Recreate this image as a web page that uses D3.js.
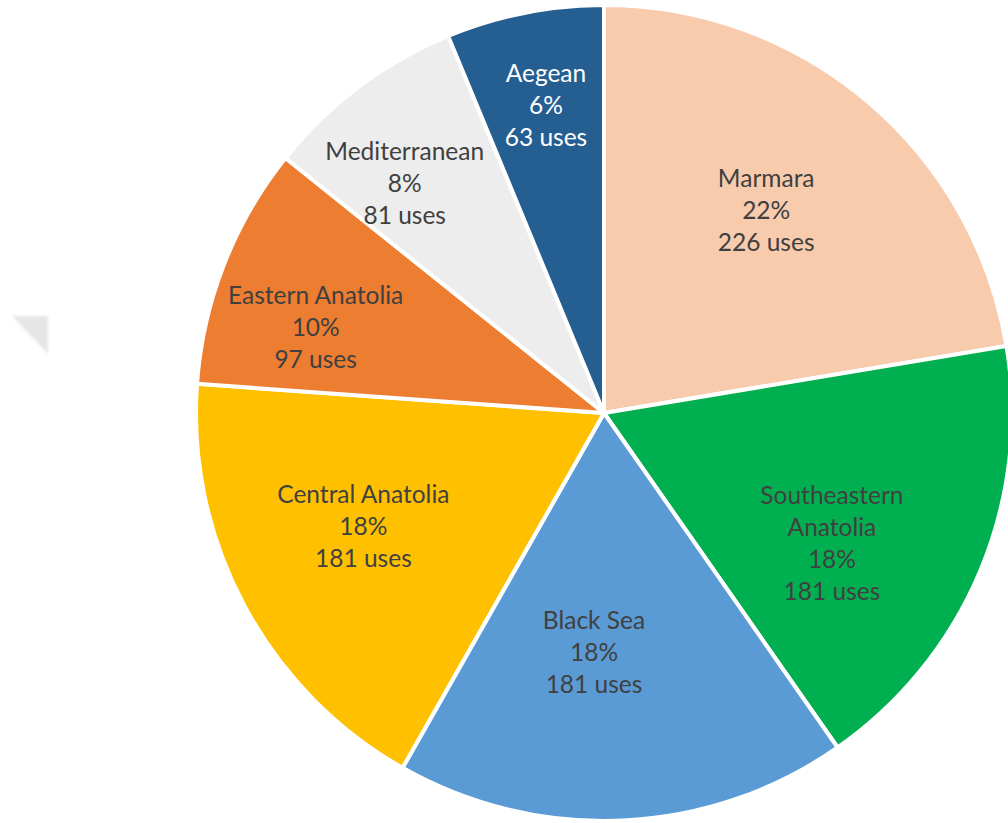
<!DOCTYPE html>
<html>
<head>
<meta charset="utf-8">
<script src="https://cdn.jsdelivr.net/npm/d3@7"></script>
<style>
  body { margin: 0; background: #fff; overflow: hidden; }
  .slice-label { font-family: Lato, "Open Sans", sans-serif; font-size: 24.5px; }
</style>
</head>
<body>
<div class="chart"></div>
<script>
var regions = ["Marmara", "Southeastern Anatolia", "Black Sea", "Central Anatolia",
               "Eastern Anatolia", "Mediterranean", "Aegean"];
var uses = [226, 181, 181, 181, 97, 81, 63];
var percents = ["22%", "18%", "18%", "18%", "10%", "8%", "6%"];
var labelLines = [["Marmara"], ["Southeastern", "Anatolia"], ["Black Sea"], ["Central Anatolia"],
                  ["Eastern Anatolia"], ["Mediterranean"], ["Aegean"]];

var colors = ["#F8CBAD", "#00B050", "#5B9BD5", "#FFC000", "#ED7D31", "#EDEDED", "#255E91"];
// small shifts of each label away from the arc centroid (Excel "best fit")
var labelNudge = [[-4, -6], [-9, 31], [-22, -17], [-14, -8], [-49, 8], [-45, -24], [-8, -55]];

var width = 1008,
    height = 823,
    cx = 604,
    cy = 413,
    radius = 408;

var svg = d3.select('.chart').append("svg")
    .attr("width", width)
    .attr("height", height);

// faint blurred shadow fragment on the left
var defs = svg.append("defs");
defs.append("filter")
    .attr("id", "soft")
    .append("feGaussianBlur")
    .attr("stdDeviation", "1.5");

svg.append("path")
    .attr("d", "M12,316 L48,316 L48,354 Z")
    .attr("fill", "#e6e6e6")
    .style("filter", "url(#soft)");

var data = regions.map(function(d, i) {
    return { region: d, uses: uses[i], pct: percents[i], lines: labelLines[i],
             color: colors[i], nudge: labelNudge[i] };
});

var pie = d3.pie()
    .sort(null)
    .value(function(d) { return d.uses; });

var arc = d3.arc()
    .innerRadius(0)
    .outerRadius(radius);

var labelArc = d3.arc()
    .innerRadius(radius * 0.63)
    .outerRadius(radius * 0.63);

var g = svg.append("g")
    .attr("transform", "translate(" + cx + "," + cy + ")");

g.selectAll("path.slice")
    .data(pie(data))
    .enter().append("path")
    .attr("class", "slice")
    .attr("d", arc)
    .attr("fill", function(d) { return d.data.color; })
    .attr("stroke", "#fff")
    .attr("stroke-width", 4)
    .attr("stroke-linejoin", "round");

var lineH = 32;

var labels = g.selectAll("text.slice-label")
    .data(pie(data))
    .enter().append("text")
    .attr("class", "slice-label")
    .attr("text-anchor", "middle")
    .attr("fill", function(d) { return d.data.region == "Aegean" ? "#ffffff" : "#404040"; })
    .attr("transform", function(d) {
        var c = labelArc.centroid(d);
        return "translate(" + (c[0] + d.data.nudge[0]) + "," + (c[1] + d.data.nudge[1]) + ")";
    });

labels.each(function(d) {
    var lines = d.data.lines.concat([d.data.pct, d.data.uses + " uses"]);
    var t = d3.select(this);
    var y0 = -(lines.length - 1) * lineH / 2;
    lines.forEach(function(l, i) {
        t.append("tspan")
            .attr("x", 0)
            .attr("y", y0 + i * lineH)
            .attr("dy", "0.35em")
            .text(l);
    });
});
</script>
</body>
</html>
